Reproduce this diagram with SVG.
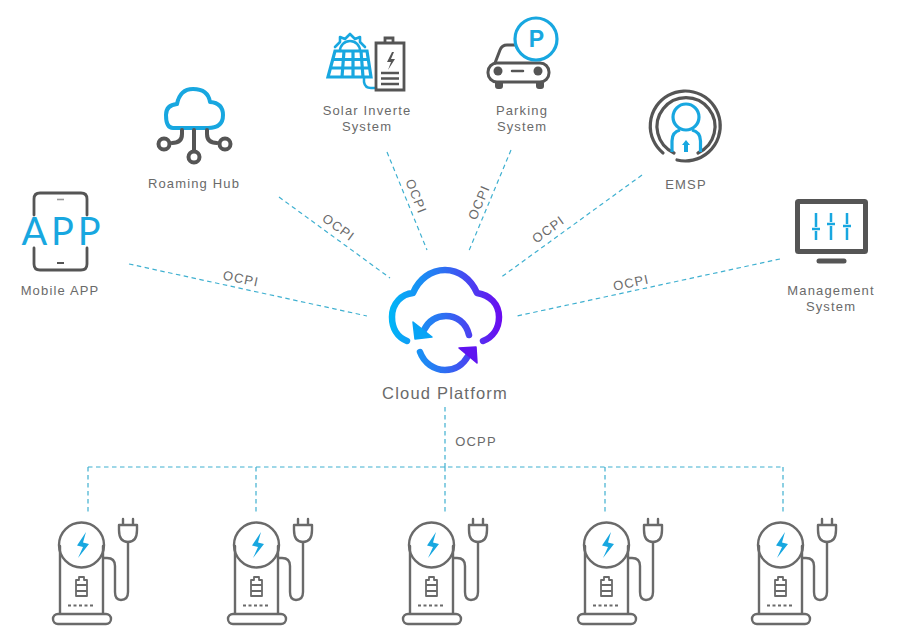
<svg xmlns="http://www.w3.org/2000/svg" width="900" height="628" viewBox="0 0 900 628">
<style>
text{font-family:"Liberation Sans","Roboto",sans-serif;fill:#6a6a6a;font-size:13px;letter-spacing:1.150px;text-anchor:middle}
.d{fill:none;stroke:#3fb0d0;stroke-width:1.2;stroke-dasharray:4.5 3.5}
.g{fill:none;stroke:#555;stroke-linecap:round;stroke-linejoin:round}
.b{fill:none;stroke:#18a7e0;stroke-linecap:round;stroke-linejoin:round}
.c{fill:none;stroke:#6a6a6a;stroke-width:2.4;stroke-linecap:round;stroke-linejoin:round}
.grad{fill:none;stroke:url(#cg);stroke-width:6.5;stroke-linecap:round;stroke-linejoin:round}
</style>
<defs>
<linearGradient id="cg" gradientUnits="userSpaceOnUse" x1="390" y1="320" x2="500" y2="320">
<stop offset="0" stop-color="#00b6f7"/><stop offset=".5" stop-color="#2f6ef2"/><stop offset="1" stop-color="#6a0cf0"/>
</linearGradient>
<g id="charger">
<path class="c" d="M60 546V613M103 546V613"/>
<circle cx="81.500" cy="545" r="22.500" class="c" fill="#fff"/>
<rect x="53" y="614" width="58" height="10" rx="5" class="c"/>
<path d="M86 532L77 545.500L83 547L78 558L89 544L83 542.500Z" fill="#18a7e0"/>
<path class="c" style="stroke-width:1.800" d="M79 577H84V580H87V596H76V580H79ZM76 585H87M76 591H87"/>
<path class="c" style="stroke-dasharray:3 2.500;stroke-linecap:butt;stroke-width:1.800" d="M68 605.500H95"/>
<path class="c" d="M103 558H107Q115 558 115 566V592Q115 600 121 600Q128 600 128 592V542"/>
<path class="c" d="M119 525H137V530Q137 542 128 542Q119 542 119 530ZM123 525V519M133 525V519"/>
</g>
</defs>
<g id="connectors">
<path class="d" d="M129 264L367 316"/>
<path class="d" d="M279 197L390 278"/>
<path class="d" d="M387 152L427 250"/>
<path class="d" d="M511 150L468 253"/>
<path class="d" d="M642 175L500 278"/>
<path class="d" d="M780 259L517 316"/>
<path class="d" d="M445 407V467M88 467H783M88 467V512M256 467V512M445 467V512M605 467V512M783 467V512"/>
<text transform="translate(240 283) rotate(12)">OCPI</text>
<text transform="translate(336 231) rotate(36)">OCPI</text>
<text transform="translate(412 198) rotate(68)">OCPI</text>
<text transform="translate(483 204) rotate(-67)">OCPI</text>
<text transform="translate(551 233) rotate(-36)">OCPI</text>
<text transform="translate(632 287) rotate(-12)">OCPI</text>
<text x="476" y="446">OCPP</text>
</g>
<g id="mobile-app">
<path class="g" style="stroke-width:2.800" d="M34 215V199Q34 193 40 193H81Q87 193 87 199V215M34 248V264Q34 270 40 270H81Q87 270 87 264V248"/>
<path class="g" style="stroke-width:1.600;stroke:#999;stroke-linecap:butt" d="M57 199.500H64"/>
<path class="g" style="stroke-width:2;stroke-linecap:butt" d="M57 263H64"/>
<text x="61" y="245" textLength="79" lengthAdjust="spacing" style="font-family:Lato,Roboto,sans-serif;font-size:38px;font-weight:400;fill:#18a7e0;letter-spacing:0">APP</text>
<text x="60" y="295">Mobile APP</text>
</g>
<g id="roaming-hub">
<path class="b" style="stroke-width:4" d="M173 128Q166 128 166 115Q166 105 177 104Q180 89 193 89Q208 89 210 102Q223 103 223 115Q223 128 208 128Z"/>
<path class="g" style="stroke-width:4" d="M194 130V151M182 130V134Q182 143 172 143M207 130V134Q207 143 217 143"/>
<circle class="g" style="stroke-width:4" cx="194" cy="157" r="5.500"/>
<circle class="g" style="stroke-width:4" cx="164" cy="144" r="5.500"/>
<circle class="g" style="stroke-width:4" cx="225" cy="144" r="5.500"/>
<text x="194" y="188">Roaming Hub</text>
</g>
<g id="solar-inverte">
<path d="M340 51A10 10 0 0 1 360 51" class="b" style="stroke-width:2.600"/>
<path d="M335 47L340 42L340 37L345 39L350 34L355 39L360 37L360 42L365 47" class="b" style="stroke-width:2.600"/>
<path class="b" style="stroke-width:3.200;stroke-linejoin:miter;stroke-linecap:butt" d="M335 51H367L371 77H328ZM333.500 59.500H368.500M330 68H370M344 51L342 77M353 51L353 77M361 51L363 77"/>
<path class="b" style="stroke-width:2.500" d="M364 78V82Q365 88 371 88H376"/>
<path class="g" style="stroke-width:2.800;stroke-linecap:butt;stroke-linejoin:miter" d="M376 43H404V90H376ZM385 42V38H393V42"/>
<path d="M392 52L387 62H391L388 70L395 59H391L394 52Z" fill="#555"/>
<path class="g" style="stroke-width:2.500;stroke-linecap:butt" d="M381 73H399M381 78.500H399M381 84H399"/>
<text x="367" y="115">Solar Inverte</text>
<text x="367" y="131">System</text>
</g>
<g id="parking-system">
<path class="g" style="stroke-width:3" d="M495 63L500 50Q502 45 507 45H522"/>
<rect x="488" y="63" width="61" height="19" rx="9" class="g" style="stroke-width:3"/>
<path d="M495 83H503V86Q503 89 500 89H498Q495 89 495 86ZM536 83H544V86Q544 89 541 89H539Q536 89 536 86Z" fill="#555"/>
<circle cx="498" cy="71" r="4.500" fill="#555"/><circle cx="538" cy="71" r="4.500" fill="#555"/>
<path class="g" style="stroke-width:2.500" d="M512 71H523"/>
<circle cx="536" cy="39" r="21" fill="#fff" stroke="#18a7e0" stroke-width="3.200"/>
<text x="536.500" y="47" style="font-size:23px;font-weight:700;fill:#18a7e0;letter-spacing:0">P</text>
<text x="522" y="115">Parking</text>
<text x="522" y="131">System</text>
</g>
<g id="emsp">
<path class="g" style="stroke-width:3.200" d="M663 153A35 35 0 1 1 677 160"/>
<path class="g" style="stroke-width:3.200" d="M698 153A29 29 0 1 0 674 153"/>
<circle class="b" style="stroke-width:3.200" cx="686" cy="117" r="13"/>
<path class="b" style="stroke-width:3.200;stroke-linecap:butt" d="M672 152V141Q672 132 680 130M700.500 152V141Q700.500 132 692 130"/>
<path d="M686 140L690 145H688V152H684V145H682Z" fill="#18a7e0"/>
<text x="686" y="189">EMSP</text>
</g>
<g id="management-system">
<rect x="797.500" y="201.500" width="68" height="50" rx="1" class="g" style="stroke-width:5"/>
<path class="g" style="stroke-width:5" d="M819 261H844"/>
<path class="b" style="stroke-width:2.500;stroke-linecap:butt" d="M816 213V227M816 231V240M831 213V222M831 226V240M847 213V224M847 228V240M812 229H820M827 224H835M843 226H851"/>
<text x="831" y="295">Management</text>
<text x="831" y="311">System</text>
</g>
<g id="cloud-platform">
<path class="grad" d="M407 341C397 337 392 328 392 317C392 303 402 294 413 293C419 279 431 270 445 270C459 270 471 279 477 293C490 295 499 304 499 317C499 328 493 337 483 341"/>
<path class="grad" d="M469 335C466 322 456 316 446 316C437 316 429 320 424 330"/>
<path d="M413 322L415 339L432 337Z" fill="#07a4f6" stroke="#07a4f6" stroke-width="1.500" stroke-linejoin="round"/>
<path class="grad" d="M420 352C424 363 434 370 445 370C456 370 463 365 468 356"/>
<path d="M459 348L476 347L477 363Z" fill="#5f14f0" stroke="#5f14f0" stroke-width="1.500" stroke-linejoin="round"/>
<text x="445" y="399" style="font-size:16.500px;letter-spacing:1.200px">Cloud Platform</text>
</g>
<g id="charger-1"><use href="#charger"/></g>
<g id="charger-2"><use href="#charger" x="175"/></g>
<g id="charger-3"><use href="#charger" x="350"/></g>
<g id="charger-4"><use href="#charger" x="525"/></g>
<g id="charger-5"><use href="#charger" x="699"/></g>
</svg>
